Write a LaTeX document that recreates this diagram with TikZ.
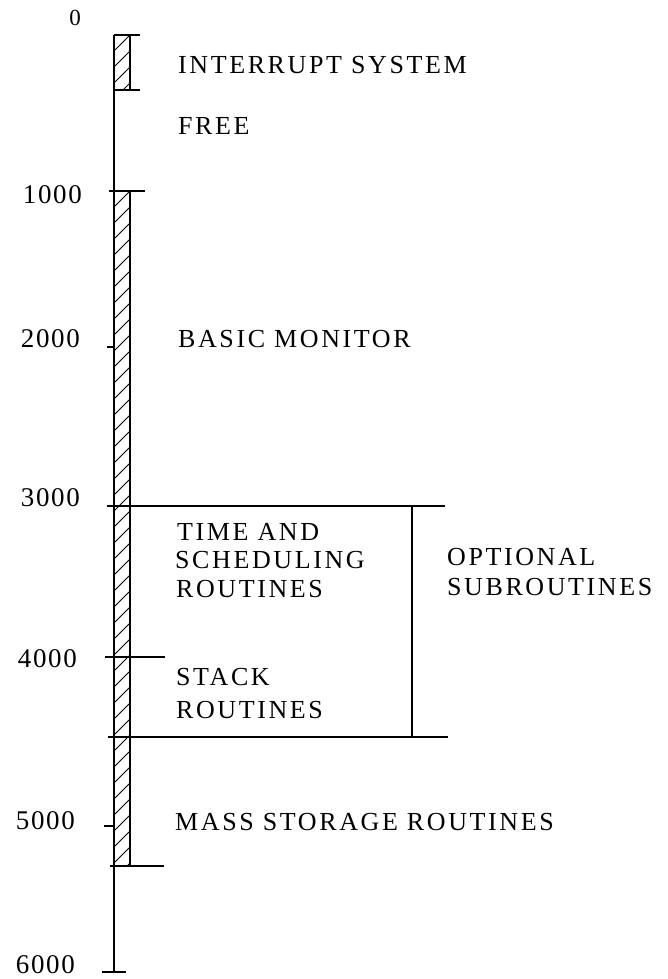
\documentclass[tikz,border=0pt]{standalone}
\usepackage{fontspec}
\setmainfont{Liberation Serif}
\newfontfamily\lblfont[LetterSpace=10]{Liberation Serif}
\newfontfamily\numfont[LetterSpace=6]{Liberation Serif}
\begin{document}
\begin{tikzpicture}[x=1pt,y=-1pt,
  lbl/.style={anchor=base west, inner sep=0pt, font=\lblfont\fontsize{26}{30}\selectfont},
  num/.style={anchor=base east, inner sep=0pt, font=\numfont\fontsize{27}{30}\selectfont},
  axisline/.style={line width=1.8pt},
  rule/.style={line width=1.3pt},
  hatch/.style={line width=0.9pt}]
\useasboundingbox (0,0) rectangle (667,979);

% hatched bars
\begin{scope}
  \clip (114,35) rectangle (130,90);
  \foreach \y in {19,35,...,100} \draw[hatch] (114,\y+16) -- (130,\y);
\end{scope}
\begin{scope}
  \clip (114,191) rectangle (130,866);
  \foreach \y in {175,191,...,880} \draw[hatch] (114,\y+16) -- (130,\y);
\end{scope}
\draw[rule] (130,35) -- (130,90);
\draw[rule] (130,191) -- (130,866);

% main axis
\draw[axisline] (114,35) -- (114,972);

% ticks and rules
\draw[rule] (114,35) -- (140,35);
\draw[rule] (114,90) -- (140,90);
\draw[rule] (109,191) -- (145,191);
\draw[rule] (107,347) -- (114,347);
\draw[rule] (107,506) -- (445,506);
\draw[rule] (105,657) -- (165,657);
\draw[rule] (108,737) -- (448,737);
\draw[rule] (104,826) -- (114,826);
\draw[rule] (110,866) -- (164,866);
\draw[axisline] (102,972) -- (126,972);
\draw[rule] (412,506) -- (412,737);

% numbers
\node[num, font=\numfont\fontsize{23}{25}\selectfont] (n0) at (81,26) {0};
\node[num] (n1) at (82,203) {1000};
\node[num] (n2) at (80,347) {2000};
\node[num] (n3) at (80,506) {3000};
\node[num] (n4) at (77,667) {4000};
\node[num] (n5) at (75,829) {5000};
\node[num] (n6) at (75,973) {6000};

% labels
\node[lbl] (intr) at (178,74) {INTERRUPT SYSTEM};
\node[lbl] (free) at (178,135) {FREE};
\node[lbl] (basic) at (178,347) {BASIC MONITOR};
\node[lbl] (time1) at (177,540) {TIME AND};
\node[lbl] (time2) at (175,568) {SCHEDULING};
\node[lbl] (time3) at (176,597) {ROUTINES};
\node[lbl] (opt1) at (447,565) {OPTIONAL};
\node[lbl] (opt2) at (447,595) {SUBROUTINES};
\node[lbl] (stack1) at (176,685) {STACK};
\node[lbl] (stack2) at (176,718) {ROUTINES};
\node[lbl] (mass) at (175,830) {MASS STORAGE ROUTINES};
\end{tikzpicture}
\end{document}
